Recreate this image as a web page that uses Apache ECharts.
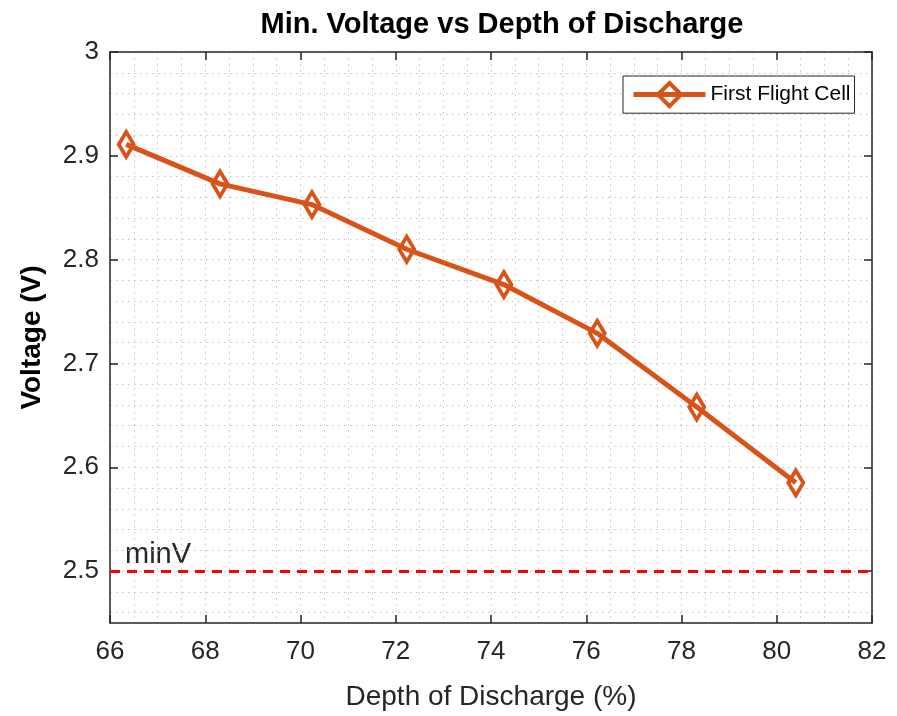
<!DOCTYPE html>
<html>
<head>
<meta charset="utf-8">
<script src="https://cdn.jsdelivr.net/npm/echarts@6/dist/echarts.min.js"></script>
<style>
    html, body { margin: 0; padding: 0; background: #fff; }
    #main { width: 897px; height: 716px; }
</style>
</head>
<body>
<div id="main"></div>
<script>
// 数据
var depth = [66.34, 68.31, 70.24, 72.23, 74.27, 76.23, 78.32, 80.40];
var voltage = [2.911, 2.873, 2.853, 2.810, 2.776, 2.729, 2.658, 2.585];
var yTicks = [2.5, 2.6, 2.7, 2.8, 2.9, 3];
var yGrid = [2.46, 2.48, 2.5, 2.52, 2.54, 2.56, 2.58, 2.6, 2.62, 2.64, 2.66, 2.68, 2.7,
    2.72, 2.74, 2.76, 2.78, 2.8, 2.82, 2.84, 2.86, 2.88, 2.9, 2.92, 2.94, 2.96, 2.98, 3];
var minV = 2.5;

var font = "'Liberation Sans', Arial, Helvetica, sans-serif";
var axisColor = '#262626';
var lineColor = '#D95319';

// 网格虚线
var dotLine = {
    show: true,
    lineStyle: { color: '#c4c4c4', width: 1, type: [1.5, 4.5] }
};

// x 轴 (上下)
function xAxis(pos) {
    return {
        type: 'value',
        position: pos,
        min: 66,
        max: 82,
        interval: 2,
        name: pos == 'bottom' ? 'Depth of Discharge (%)' : '',
        nameLocation: 'middle',
        nameGap: 60,
        nameTextStyle: { fontFamily: font, fontSize: 28, color: axisColor },
        axisLine: { show: true, lineStyle: { color: axisColor, width: 1.5 } },
        axisTick: { show: true, inside: true, length: 8, lineStyle: { color: axisColor, width: 1.5 } },
        axisLabel: { show: pos == 'bottom', margin: 16, fontFamily: font, fontSize: 26, color: axisColor },
        splitLine: pos == 'bottom' ? dotLine : { show: false },
        minorTick: { show: false, splitNumber: 4 },
        minorSplitLine: pos == 'bottom' ? dotLine : { show: false }
    };
}

// y 轴 (左右)
function yAxis(pos) {
    return {
        type: 'value',
        position: pos,
        min: 2.45,
        max: 3,
        name: pos == 'left' ? 'Voltage (V)' : '',
        nameLocation: 'middle',
        nameGap: 64,
        nameTextStyle: { fontFamily: font, fontSize: 28, fontWeight: 'bold', color: '#000' },
        axisLine: { show: true, lineStyle: { color: axisColor, width: 1.5 } },
        axisTick: { show: true, inside: true, length: 8, customValues: yTicks, lineStyle: { color: axisColor, width: 1.5 } },
        axisLabel: { show: pos == 'left', customValues: yTicks, margin: 11, fontFamily: font, fontSize: 26, color: axisColor },
        splitLine: { show: false }
    };
}

var option = {
    animation: false,
    backgroundColor: '#fff',
    title: {
        text: 'Min. Voltage vs Depth of Discharge',
        left: 497,
        textAlign: 'center',
        top: 5,
        textStyle: { fontFamily: font, fontSize: 29, fontWeight: 'bold', color: '#000' }
    },
    grid: { left: 110, right: 25, top: 52, bottom: 91 },
    legend: {
        left: 623,
        top: 76,
        orient: 'vertical',
        padding: [5, 4, 5, 8],
        borderColor: axisColor,
        borderWidth: 1,
        backgroundColor: '#fff',
        itemWidth: 72,
        itemHeight: 29,
        itemGap: 0,
        lineStyle: { width: 5 },
        itemStyle: { borderWidth: 4 },
        textStyle: { fontFamily: font, fontSize: 21, color: '#000' },
        data: ['First Flight Cell']
    },
    xAxis: [xAxis('bottom'), xAxis('top')],
    yAxis: [
        yAxis('left'),
        yAxis('right'),
        {
            // 次网格
            type: 'value',
            position: 'left',
            min: 2.45,
            max: 3,
            axisLine: { show: false },
            axisTick: { show: false, customValues: yGrid },
            axisLabel: { show: false, customValues: yGrid },
            splitLine: dotLine
        }
    ],
    graphic: [{
        type: 'text',
        left: 125,
        top: 540,
        style: { text: 'minV', fontFamily: font, fontSize: 29, fill: axisColor }
    }],
    series: [{
        name: 'First Flight Cell',
        type: 'line',
        xAxisIndex: 0,
        yAxisIndex: 0,
        data: depth.map(function(d, i) { return [d, voltage[i]]; }),
        symbol: 'diamond',
        symbolSize: [15, 25],
        lineStyle: { color: lineColor, width: 5 },
        itemStyle: { color: 'rgba(255,255,255,0)', borderColor: lineColor, borderWidth: 4 },
        z: 5,
        markLine: {
            silent: true,
            symbol: ['none', 'none'],
            label: { show: false },
            lineStyle: { color: '#ff0000', width: 3, type: [10, 7] },
            data: [{ yAxis: minV }]
        }
    }]
};

var chart = echarts.init(document.getElementById('main'));
chart.setOption(option);
</script>
</body>
</html>
